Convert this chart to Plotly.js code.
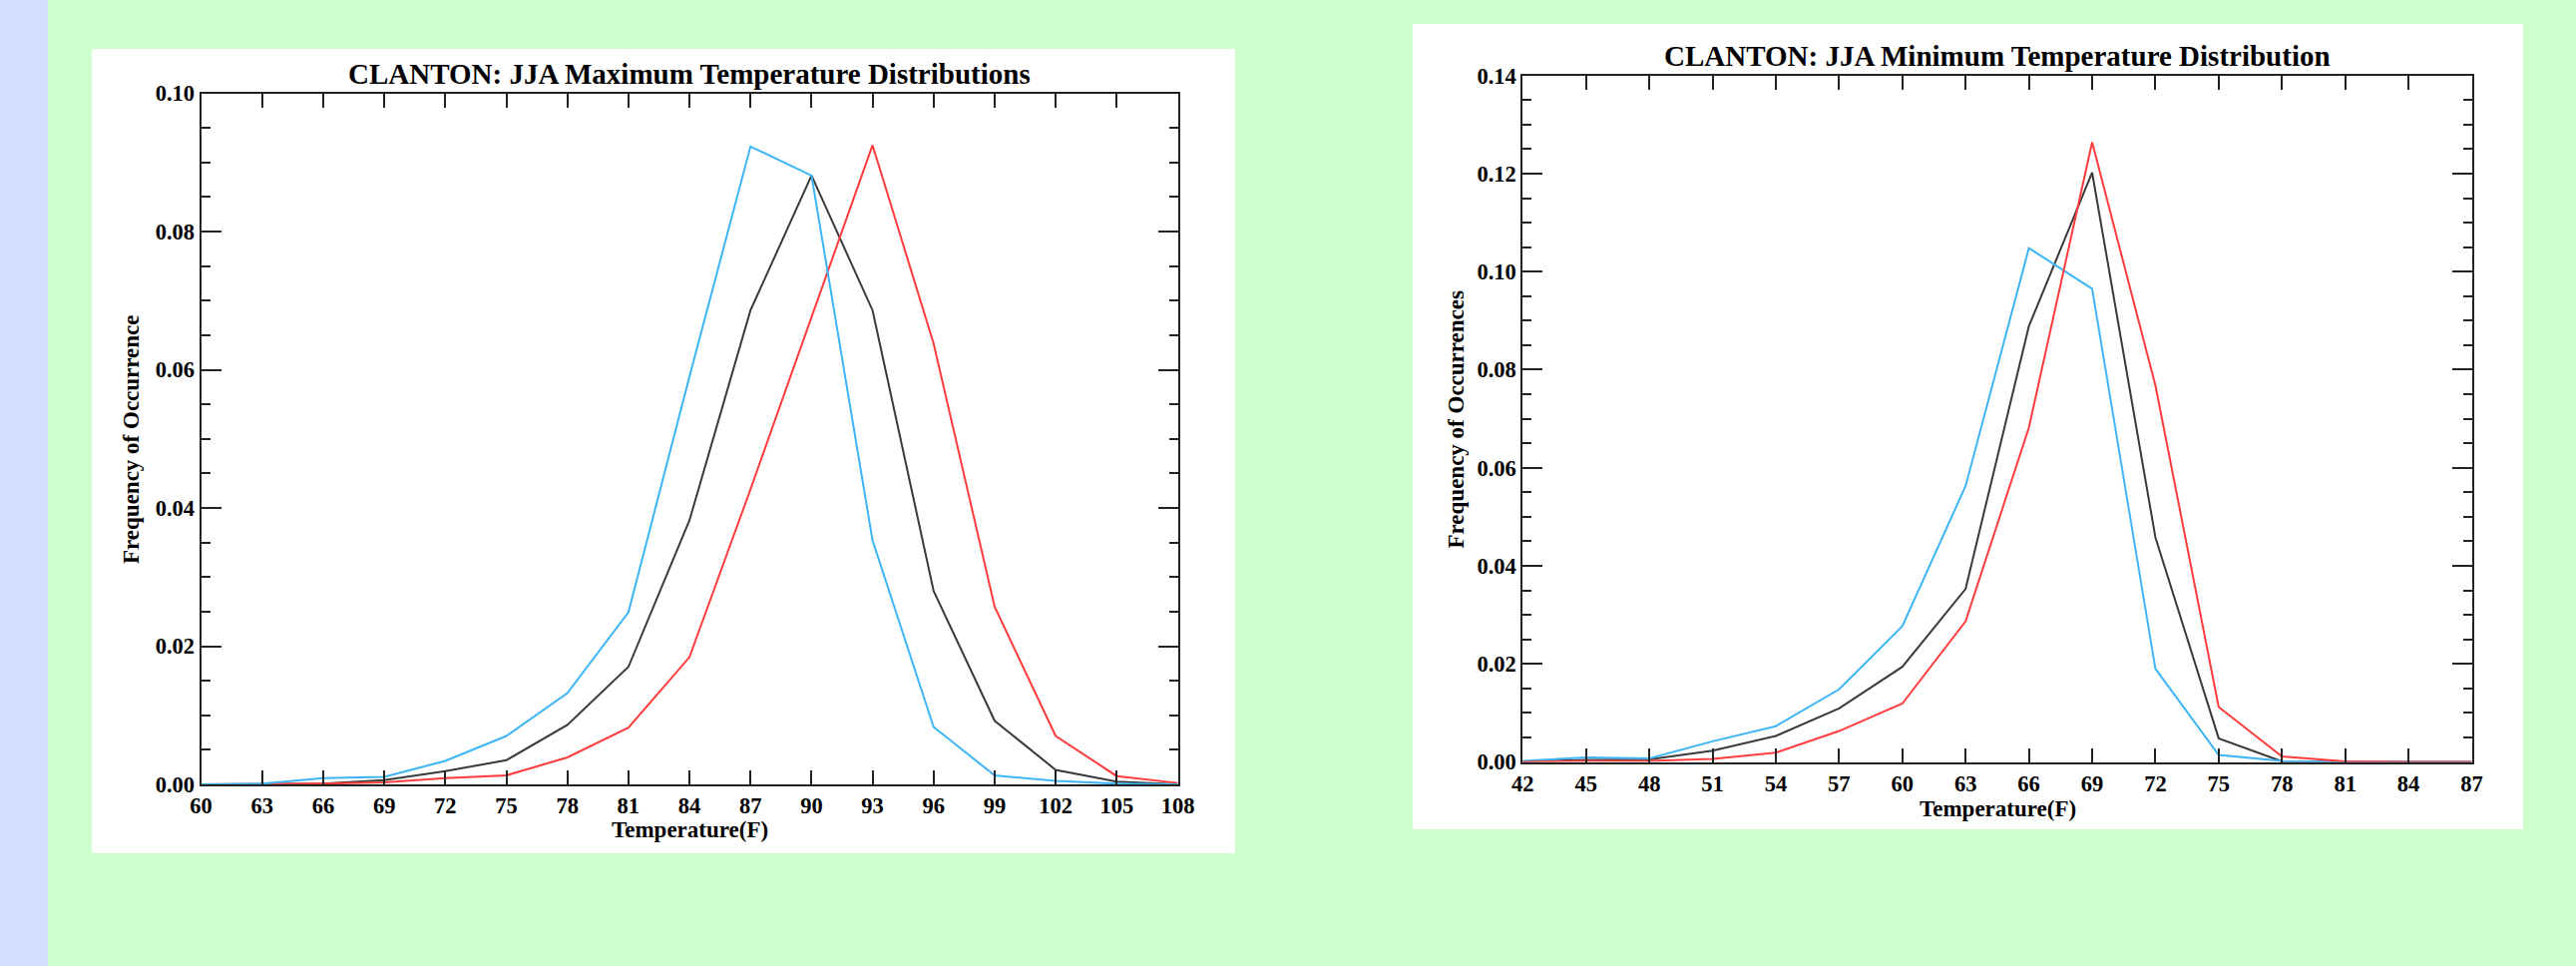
<!DOCTYPE html>
<html>
<head>
<meta charset="utf-8">
<script src="https://cdn.plot.ly/plotly-3.0.1.min.js"></script>
<style>
  html, body { margin: 0; padding: 0; background: #ccffcc; }
  #chart { width: 2582px; height: 968px; }
</style>
</head>
<body>
<div id="chart"></div>
<script>
// ---------- DATA ----------
const maxTemps = [60, 63, 66, 69, 72, 75, 78, 81, 84, 87, 90, 93, 96, 99, 102, 105, 108];
const maxBlue  = [0, 0.0001, 0.0009, 0.0011, 0.0034, 0.0070, 0.0132, 0.0249, 0.0590, 0.0923, 0.0881, 0.0353, 0.0083, 0.0013, 0.0005, 0.0001, 0];
const maxBlack = [0, 0, 0.0001, 0.0006, 0.0019, 0.0035, 0.0086, 0.0170, 0.0382, 0.0686, 0.0881, 0.0686, 0.0280, 0.0092, 0.0021, 0.0004, 0];
const maxRed   = [0, 0, 0.0001, 0.0003, 0.0009, 0.0013, 0.0039, 0.0082, 0.0184, 0.0427, 0.0675, 0.0925, 0.0638, 0.0257, 0.0070, 0.0012, 0.0002];

const minTemps = [42, 45, 48, 51, 54, 57, 60, 63, 66, 69, 72, 75, 78, 81, 84, 87];
const minBlue  = [0.0002, 0.0009, 0.0007, 0.0042, 0.0073, 0.0148, 0.0277, 0.0563, 0.1048, 0.0965, 0.0190, 0.0014, 0.0002, 0, 0, 0];
const minBlack = [0.0001, 0.0004, 0.0005, 0.0023, 0.0053, 0.0109, 0.0194, 0.0353, 0.0889, 0.1202, 0.0458, 0.0048, 0.0001, 0, 0, 0];
const minRed   = [0, 0.0002, 0.0002, 0.0006, 0.0019, 0.0063, 0.0119, 0.0287, 0.0682, 0.1264, 0.0768, 0.0112, 0.0011, 0.0001, 0, 0];

const leftTitle  = "CLANTON: JJA Maximum Temperature Distributions";
const rightTitle = "CLANTON: JJA Minimum Temperature Distribution";
const xTitle = "Temperature(F)";
const leftYTitle  = "Frequency of Occurrence";
const rightYTitle = "Frequency of Occurrences";

// ---------- STYLE / LAYOUT ----------
const W = 2582, H = 968;
const px = x => x / W;
const py = y => 1 - y / H;

const BLUE = "#3cb5f7", BLACK = "#3a3a3a", RED = "#ff3b3b";
const FONT = "Liberation Serif, Times New Roman, serif";

function line(x, y, color, xa, ya, name) {
  return { x: x, y: y, type: "scatter", mode: "lines", name: name,
           line: { color: color, width: 2 }, xaxis: xa, yaxis: ya,
           hoverinfo: "x+y" };
}

const data = [
  line(maxTemps, maxBlack, BLACK, "x", "y", "all"),
  line(maxTemps, maxRed,   RED,   "x", "y", "warm"),
  line(maxTemps, maxBlue,  BLUE,  "x", "y", "cool"),
  line(minTemps, minBlack, BLACK, "x2", "y2", "all"),
  line(minTemps, minBlue,  BLUE,  "x2", "y2", "cool"),
  line(minTemps, minRed,   RED,   "x2", "y2", "warm")
];

const tickFont = { family: FONT, size: 22.5, color: "#000", weight: "bold" };

function xAxis(domain, range, anchor) {
  return {
    domain: domain, range: range, anchor: anchor,
    tick0: range[0], dtick: 3, tickmode: "linear",
    ticks: "inside", ticklen: 14, tickwidth: 2, tickcolor: "#222",
    showline: true, linecolor: "#222", linewidth: 2, mirror: "ticks",
    showgrid: false, zeroline: false,
    tickfont: tickFont, ticklabelstandoff: 0, automargin: false
  };
}
function yAxis(domain, range, anchor) {
  return {
    domain: domain, range: range, anchor: anchor,
    tick0: 0, dtick: 0.02, tickmode: "linear", tickformat: ".2f",
    ticks: "inside", ticklen: 20, tickwidth: 2, tickcolor: "#222",
    minor: { dtick: 0.005, ticks: "inside", ticklen: 9, tickwidth: 2, tickcolor: "#222", showgrid: false },
    showline: true, linecolor: "#222", linewidth: 2, mirror: "ticks",
    showgrid: false, zeroline: false,
    tickfont: tickFont, ticklabelstandoff: 0, automargin: false
  };
}

const titleFont = { family: FONT, size: 29, color: "#000", weight: "bold" };
const axTitleFont = { family: FONT, size: 23, color: "#000", weight: "bold" };

const layout = {
  width: W, height: H,
  margin: { l: 0, r: 0, t: 0, b: 0 },
  paper_bgcolor: "#ccffcc",
  plot_bgcolor: "#ffffff",
  showlegend: false,
  xaxis:  xAxis([px(201.6), px(1180.5)], [60, 108], "y"),
  yaxis:  yAxis([py(786), py(93.5)], [0, 0.10], "x"),
  xaxis2: xAxis([px(1526.3), px(2477.5)], [42, 87], "y2"),
  yaxis2: yAxis([py(763.5), py(75.7)], [0, 0.14], "x2"),
  shapes: [
    { type: "rect", xref: "paper", yref: "paper", x0: 0, x1: px(48), y0: 0, y1: 1,
      fillcolor: "#d4dcff", line: { width: 0 }, layer: "below" },
    { type: "rect", xref: "paper", yref: "paper", x0: px(92), x1: px(1238), y0: py(855), y1: py(49),
      fillcolor: "#ffffff", line: { width: 0 }, layer: "below" },
    { type: "rect", xref: "paper", yref: "paper", x0: px(1416), x1: px(2529), y0: py(831), y1: py(24),
      fillcolor: "#ffffff", line: { width: 0 }, layer: "below" }
  ],
  annotations: [
    { text: leftTitle, xref: "paper", yref: "paper", x: px(691), y: py(74),
      xanchor: "center", yanchor: "middle", showarrow: false, font: titleFont },
    { text: rightTitle, xref: "paper", yref: "paper", x: px(2002), y: py(56),
      xanchor: "center", yanchor: "middle", showarrow: false, font: titleFont },
    { text: xTitle, xref: "paper", yref: "paper", x: px(691), y: py(831),
      xanchor: "center", yanchor: "middle", showarrow: false, font: axTitleFont },
    { text: xTitle, xref: "paper", yref: "paper", x: px(2002), y: py(810),
      xanchor: "center", yanchor: "middle", showarrow: false, font: axTitleFont },
    { text: leftYTitle, xref: "paper", yref: "paper", x: px(131), y: py(440), textangle: -90,
      xanchor: "center", yanchor: "middle", showarrow: false, font: axTitleFont },
    { text: rightYTitle, xref: "paper", yref: "paper", x: px(1458.5), y: py(420), textangle: -90,
      xanchor: "center", yanchor: "middle", showarrow: false, font: axTitleFont }
  ]
};

Plotly.newPlot("chart", data, layout, { staticPlot: true, displayModeBar: false });
</script>
</body>
</html>
